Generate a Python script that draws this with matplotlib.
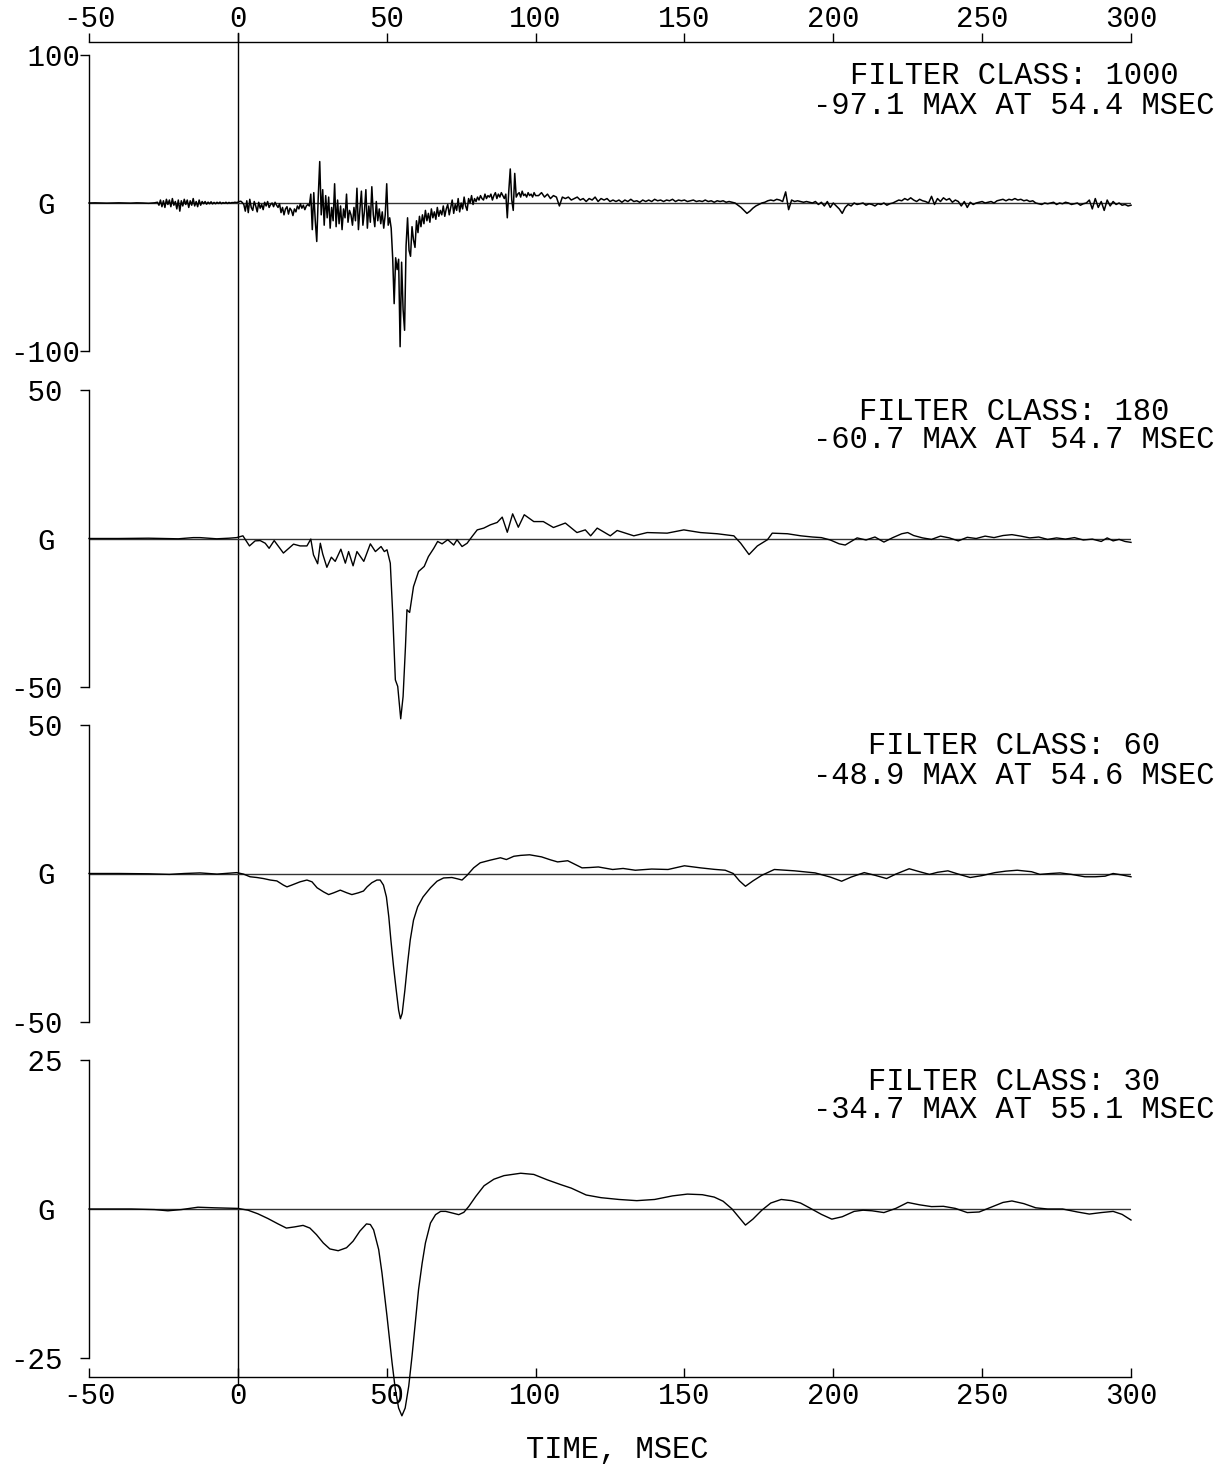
import numpy as np
import matplotlib
matplotlib.use("Agg")
import matplotlib.pyplot as plt

plt.rcParams['font.family'] = ['Liberation Mono', 'DejaVu Sans Mono']

# ---------------- data ----------------
x_ticks = [-50, 0, 50, 100, 150, 200, 250, 300]
x_tick_labels = ['-50', '0', '50', '100', '150', '200', '250', '300']
x_label = 'TIME, MSEC'

filter_classes = ['1000', '180', '60', '30']
peak_values = [-97.1, -60.7, -48.9, -34.7]
peak_times = [54.4, 54.7, 54.6, 55.1]
y_limits = [100, 50, 50, 25]

# CFC 1000 (sampled segments: start, step, values)
c1000_a = [0.0, 0.1, 0.0, -0.1, 0.0, 0.1, 0.0, -0.1, 0.1, 0.0, -0.2, 0.1]  # -50..-28 step 2
c1000_b = [0.5, -1.5, 2.0, -2.5, 1.5, -3.0, 2.5, -1.0, 2.0, -2.5, 3.0, -1.5, 1.0, -4.0, 2.0,
           -5.5, 1.5, -2.0, 2.5, -1.0, 2.0, -3.0, 1.5, -1.5, 3.0, -2.0, 1.0, -2.5, 2.0, -1.5, 1.0,
           -0.5, 1.0, -0.8, 0.6, -0.5, 0.8, -0.6, 0.4, -0.5, 0.5, -0.3, 0.6, -0.4, 0.3, -0.2,
           0.5, -0.3, 0.4, -0.1, 0.3, 0.2, 0.5, 0.3]  # -27..-0.5 step 0.5
c1000_b2 = [0.5, 1.0, 1.2, 0.3, -1.0, -5.5, 1.5, -6.5, 2.5, -3.0, -5.0, 1.0, -2.0, -6.0, 0.5,
            -3.5, -1.0, -4.5, 0.5, -2.0, 1.0, -3.0, -1.0, 0.0, -2.5, 0.5, -1.5, -3.0, -0.5, -6.5,
            -3.0, -8.0, -4.0, -2.5, -7.5, -3.5, -5.0, -8.5, -4.0, -6.0, -2.0, -4.0, -0.5, -3.5,
            -1.5, -4.5, -2.0, -1.0]  # 0..23.5 step 0.5
c1000_c = [-2, 6, -18, 7, -12, -26, 4, 28, -8, 9, -15, 5, -10, 4, -17, -3, -12, 13, -16, 2,
           -14, -2, -18, -4, -10, 6, -13, -5, -8, -15, -3, -12, 10, -18, -4, 8, -15, -6, 9, -17,
           -2, -13, 11, -8, -16, 1, -12, -4, -14, -6, -17, -8, 13, -15, -10, -17, -37, -68, -37, -45,
           -38, -97.1, -40, -72, -86, -29, -10, -32, -36, -16, -25, -30, -12]  # 24..60 step 0.5
c1000_d = [-20, -9, -16, -8, -14, -5, -12, -7, -13, -4, -10, -6, -11, -3, -9, -5, -8, -2, -9, -4,
           -1, -8, -3, 2, -7, -1, -5, 3, -6, 0, -4, 4, -2, -5, 3, 0, 5, -1, 3, 1,
           4, 2, 5, 3, 2, 6, 3, 5, 4, 6, 2, 5, 7, 3, 6, 4, 7, 5, 3, 6,
           -10, 8, 23, 2, -5, 20, 4, 6, 7, 4, 8, 5, 6, 4, 7, 5, 6, 4, 7, 5]  # 60.5..100 step 0.5
c1000_e = [5, 7, 4, 6, 3, 5, 4, -2,
           4, 3, 4, 2, 3, 4, 2, 3, 1, 3, 2, 4, 1, 3, 2, 3, 1,
           2, 1, 2, 0.5, 2, 1, 2.5, 1, 1.5, 0.5, 2, 1, 2, 1, 2.5, 1.5, 2, 1, 2, 1.5,
           2.5, 1, 2, 1.5, 2, 1, 1.5, 2, 1, 1.5, 1, 2, 1, 1.5, 0.5, 1.5, 1, 1.5, 0.5, 1,
           0.5, 0, -1.5, -3, -5, -7, -5.5, -3.5, -2, -1, 0, 0.5,
           1.5, 2, 1.5, 2.5, 2, 1, 7.5, -4.5, 2, 1, 1.5, 1, 0.5, 1, 0.5, 0, 1,
           -1, 0.5, -2, 1, -3, 0, -2, -4, -7, -3, -1, -2,
           0, -1, -0.5, 0, -1.5, -0.5, -1, -2, -0.5, -1, 0, -1.5, -0.5, 0,
           1, 2, 1.5, 3, 2, 3.5, 2, 1, 2.5, 1.5, 1,
           0, 4.5, -1, 3, 1, 3.5, 2, 3, 0.5, 2, 1,
           -2, 1, -3, 0.5, -1, 0,
           0.5, 1, 0, 0.5, 1, 0,
           1.5, 2, 2.5, 1.5, 2.5, 2, 3, 2, 2.5, 1.5, 2, 1, 1.5,
           0, -0.5, -1, 0, -0.5, 0, 0.5, -1, 0, -0.5, 0.5, 0, -1, -0.5, 0, -1.5, -0.5, 0,
           2, -4, 3, -3, 1, -5, 2, -2, 1,
           -1, 0, -1.5, -1, -2, -1.5]  # 101..300 step 1
c1000_segments = [(-50, 2, c1000_a), (-27, 0.5, c1000_b), (0, 0.5, c1000_b2), (24, 0.5, c1000_c),
                  (60.5, 0.5, c1000_d), (101, 1, c1000_e)]

# CFC 180
t180 = [-50, -40, -30, -20, -15, -12.7, -7.1, -3, -0.4, 1.7, 3.9, 5.8, 7.5, 9.2, 10.5, 12.2, 15.3,
        18.7, 20.9, 23.2, 24.5, 25.4, 26.8, 27.7, 28.5, 29.9, 31.4, 32.7, 34.6, 36.1, 37.2, 38.7,
        40, 42.3, 44.5, 46.2, 48.1, 49.2, 50.1, 51.2, 52, 52.9, 53.7, 54.7, 55.5, 56.3, 56.8,
        57.7, 59, 60.7, 62.6, 64, 65.8, 67.1, 68.6, 70.5, 72.5, 73.6, 75.3, 77, 78.7, 80.4,
        82.6, 84.8, 87.1, 88.8, 90.5, 92.3, 94.2, 96.2, 99.4, 102.6, 106, 110, 113.9, 116.7,
        118.5, 120.7, 125.1, 127.4, 133, 137.5, 144.2, 149.8, 155.4, 161, 166.6, 168.9, 171.7,
        174.5, 177.9, 179.5, 184.6, 189.1, 193, 196, 199, 202, 204, 206, 208, 211, 214, 217,
        220, 223, 225, 227, 230, 233, 236, 239, 242, 245, 248, 251, 254, 257, 260, 263, 266,
        269, 272, 275, 278, 281, 284, 287, 290, 292, 294, 296, 298, 300]
g180 = [0, 0, 0.1, -0.1, 0.3, 0.3, -0.1, 0.1, 0.3, 0.9, -2.5, -0.8, -0.7, -1.6, -3.3, -0.7, -4.9,
        -1.9, -2.5, -2.5, -0.2, -5.5, -8.5, -1.6, -5.2, -9.7, -6.3, -7.7, -3.6, -8.3, -4.4, -9.2,
        -4.4, -7.7, -1.8, -4.4, -2.7, -4.4, -3.8, -8.3, -25.1, -47.6, -49.8, -60.7, -53.2, -36.4, -24.0,
        -24.9, -16.2, -11.1, -9.4, -6.1, -3.3, -1.0, -1.8, -0.4, -2.2, -0.4, -2.7, -1.6, 0.7, 2.9,
        3.5, 4.6, 5.4, 7.2, 2.1, 8.3, 3.8, 8.0, 5.7, 5.7, 3.7, 5.2, 2.0, 2.9,
        0.9, 3.5, 0.9, 2.7, 0.9, 2.0, 1.8, 2.9, 2.0, 1.6, 0.9, -1.6, -5.4,
        -2.5, -0.4, 1.8, 1.6, 0.9, 0.5, 0.3, -0.5, -1.8, -2.2, -1.0, 0.2, -0.5, 0.5, -1.2,
        0.3, 1.6, 2.0, 1.0, 0.2, -0.3, 0.8, 0.2, -0.8, 0.4, 0.0, 0.8, 0.3, 1.0, 1.3, 0.8, 0.2,
        0.5, -0.3, 0.2, -0.2, 0.3, -0.5, -0.2, -1.0, 0.2, -0.8, -0.3, -1.0, -1.3]

# CFC 60 (time ms, G)
c60_points = [
    (-50, 0), (-40, 0), (-30, -0.1), (-23, -0.3), (-18, 0), (-12.7, 0.2), (-7, -0.2), (-0.4, 0.3),
    (1.9, -0.2), (4.1, -1.1), (6.4, -1.35), (8.6, -1.7), (10.9, -2.2), (13.1, -2.5), (15.3, -3.9),
    (16.5, -4.5), (18.1, -3.9), (20.9, -2.8), (23.2, -2.2), (24.9, -2.8), (26.6, -4.8), (28.8, -6.2),
    (30.5, -7.1), (32.2, -6.5), (34.4, -5.6), (36.6, -6.5), (38.3, -7.1), (40.5, -6.5), (42.2, -5.9),
    (43.4, -4.5), (45, -3.1), (46.7, -2.2), (47.8, -2.2), (48.9, -3.9), (49.9, -7.9), (50.7, -14.6),
    (51.4, -22.4), (52.3, -31.4), (53.2, -39.3), (54, -46), (54.6, -48.9), (55.2, -47.1), (56.1, -39.3),
    (57, -30.3), (57.9, -22.4), (59, -15.7), (60.4, -11.2), (62.2, -7.9), (64.7, -4.8), (66.9, -2.6),
    (69.1, -1.5), (71.9, -1.35), (73.8, -1.8), (75.3, -2.2), (77, -0.6), (79.2, 1.9), (81.4, 3.6),
    (84.8, 4.5), (88.2, 5.3), (90.2, 4.7), (92.7, 5.8), (95, 6.1), (98, 6.3), (102, 5.6), (105, 4.6),
    (107.4, 3.9), (110.8, 4.3), (113, 3.2), (115.6, 1.9), (118, 2.0), (121.1, 2.2), (125.9, 1.35),
    (129.4, 1.7), (133.5, 1.1), (139, 1.5), (144.5, 1.35), (150, 2.6), (155.4, 1.9), (160, 1.4),
    (163.7, 1.1), (166.4, 0), (168.5, -2.5), (170.5, -4.3), (173, -2.5), (176, -0.6), (180.2, 1.35),
    (187, 0.9), (193.9, 0.2), (199, -1.2), (202.8, -2.6), (206, -1.2), (210.4, 0.3), (214, -0.6),
    (217.9, -1.7), (221, -0.2), (225.5, 1.6), (229, 0.6), (232.3, -0.3), (235, 0.4), (238.5, 0.9),
    (242, -0.2), (246, -1.35), (250, -0.7), (254.3, 0.3), (258, 0.8), (261.8, 1.1), (266.6, 0.6),
    (269.4, -0.3), (273, 0), (276.2, 0.2), (280, -0.3), (284.5, -1.1), (288, -1.1), (291.3, -0.9),
    (294, 0), (297, -0.5), (300, -1.1)]

# CFC 30 (time ms, G)
c30_points = [
    (-50, 0), (-42, 0), (-35.8, 0), (-28, -0.1), (-23.5, -0.3), (-19, -0.1), (-13.4, 0.3), (-7.8, 0.2),
    (0, 0.1), (3.4, -0.2), (6.7, -0.8), (10.1, -1.6), (13.5, -2.5), (16.3, -3.2), (19.1, -3.0),
    (21.9, -2.75), (24.2, -3.2), (26.4, -4.3), (28.7, -5.7), (30.9, -6.7), (33.7, -7.0), (36.5, -6.5),
    (38.7, -5.4), (41, -3.7), (43.2, -2.5), (44.5, -2.6), (45.6, -3.5), (47.3, -6.8), (48.4, -10.7),
    (50.1, -18.0), (51.8, -25.8), (52.9, -30.3), (54, -33.4), (55.1, -34.7), (56.2, -33.4), (57.4, -29.7),
    (58.5, -24.7), (59.6, -19.1), (60.7, -13.5), (61.9, -9.1), (63, -5.7), (64.7, -2.35), (66.4, -0.95),
    (68.1, -0.4), (69.8, -0.4), (72, -0.67), (74.2, -0.95), (75.9, -0.56), (77.6, 0.45), (79.9, 2.1),
    (82.7, 3.9), (86, 5.0), (89.4, 5.6), (95, 6.0), (99.4, 5.8), (103.9, 4.9), (108.4, 4.1), (112, 3.5),
    (117, 2.35), (122, 1.9), (128, 1.6), (134, 1.4), (140, 1.6), (146, 2.2), (151, 2.5), (156, 2.4),
    (160, 2.0), (163, 1.3), (166, 0.0), (168.5, -1.5), (170.5, -2.7), (173, -1.7), (176, -0.2),
    (179, 1.0), (182.5, 1.6), (186, 1.4), (189, 1.0), (192, 0.2), (196, -0.9), (199.5, -1.7),
    (203, -1.3), (207, -0.4), (210, -0.2), (213, -0.3), (217, -0.6), (221, 0.1), (225, 1.1), (229, 0.7),
    (233, 0.4), (237, 0.45), (241, 0.1), (245, -0.6), (249, -0.5), (253, 0.3), (257, 1.1), (260, 1.35),
    (264, 0.9), (268, 0.2), (272, 0), (277, 0), (282, -0.5), (286, -0.85), (290, -0.6), (294, -0.4),
    (297, -0.9), (300, -1.85)]

# ---------------- layout ----------------
FIG_W, FIG_H = 1230, 1467
LEFT_PX, RIGHT_PX = 89, 1131
TOP_AXIS_PX, BOTTOM_AXIS_PX = 42, 1377
panel_tops = [55, 390, 725, 1060]
panel_bottoms = [351, 687, 1022, 1358]
TICK_FS = 21
TEXT_FS = 22
line_widths = [1.1, 1.0, 1.0, 1.0]


def fx(px):
    return px / FIG_W


def fy(py):
    return 1 - py / FIG_H


fig = plt.figure(figsize=(FIG_W / 100, FIG_H / 100), dpi=100)

# frame axes: bottom time axis
frame = fig.add_axes([fx(LEFT_PX), fy(BOTTOM_AXIS_PX), (RIGHT_PX - LEFT_PX) / FIG_W,
                      (BOTTOM_AXIS_PX - TOP_AXIS_PX) / FIG_H])
frame.patch.set_visible(False)
frame.set_xlim(-50, 300)
frame.set_ylim(0, 1)
for s in ['left', 'right', 'top']:
    frame.spines[s].set_visible(False)
frame.spines['bottom'].set_linewidth(1.0)
frame.set_yticks([])
frame.set_xticks(x_ticks, labels=x_tick_labels)
frame.tick_params(axis='x', direction='in', length=6.5, width=1.0, pad=3.5, labelsize=TICK_FS)

# top time axis
top = frame.twiny()
top.patch.set_visible(False)
top.set_xlim(-50, 300)
for s in ['left', 'right', 'bottom']:
    top.spines[s].set_visible(False)
top.spines['top'].set_linewidth(1.0)
top.set_xticks(x_ticks, labels=x_tick_labels)
top.tick_params(axis='x', direction='out', length=6.5, width=1.0, pad=0, labelsize=TICK_FS)

# vertical time-zero line
frame.axvline(0, ymin=-8 / (BOTTOM_AXIS_PX - TOP_AXIS_PX), ymax=1 + 9 / (BOTTOM_AXIS_PX - TOP_AXIS_PX),
              color='black', lw=1.0, clip_on=False)

fig.text(fx(617), fy(1447), x_label, ha='center', va='center_baseline', fontsize=TEXT_FS)

# build series
c1000_t = np.concatenate([s + d * np.arange(len(v)) for s, d, v in c1000_segments])
c1000_g = np.concatenate([np.asarray(v, dtype=float) for s, d, v in c1000_segments])
t60, g60 = (np.array(a) for a in zip(*c60_points))
t30, g30 = (np.array(a) for a in zip(*c30_points))
series = [(c1000_t, c1000_g), (np.array(t180), np.array(g180)), (t60, g60), (t30, g30)]

for i in range(4):
    tp, bp = panel_tops[i], panel_bottoms[i]
    ax = fig.add_axes([fx(LEFT_PX), fy(bp), (RIGHT_PX - LEFT_PX) / FIG_W, (bp - tp) / FIG_H])
    ax.patch.set_visible(False)
    lim = y_limits[i]
    ax.set_xlim(-50, 300)
    ax.set_ylim(-lim, lim)
    for s in ['top', 'right', 'bottom']:
        ax.spines[s].set_visible(False)
    ax.spines['left'].set_linewidth(1.0)
    ax.set_xticks([])
    ax.set_yticks([-lim, lim], labels=['-%d' % lim, ' %d' % lim], ha='left', va='center_baseline')
    ax.set_yticks([0], labels=['G'], minor=True, ha='left', va='center_baseline')
    ax.tick_params(axis='y', which='major', direction='out', length=6.5, width=1.0, pad=50.4,
                   labelsize=TICK_FS)
    ax.tick_params(axis='y', which='minor', length=0, pad=37.4, labelsize=TICK_FS)
    ax.axhline(0, color='#333333', lw=1.0)
    t, g = series[i]
    ax.plot(t, g, color='black', lw=line_widths[i], clip_on=False)
    fig.text(fx(1014), fy(tp + 18), 'FILTER CLASS: %s' % filter_classes[i],
             ha='center', va='center_baseline', fontsize=TEXT_FS)
    fig.text(fx(1014), fy(tp + 47), '%.1f MAX AT %.1f MSEC' % (peak_values[i], peak_times[i]),
             ha='center', va='center_baseline', fontsize=TEXT_FS)

fig.savefig('out.png', dpi=100)
